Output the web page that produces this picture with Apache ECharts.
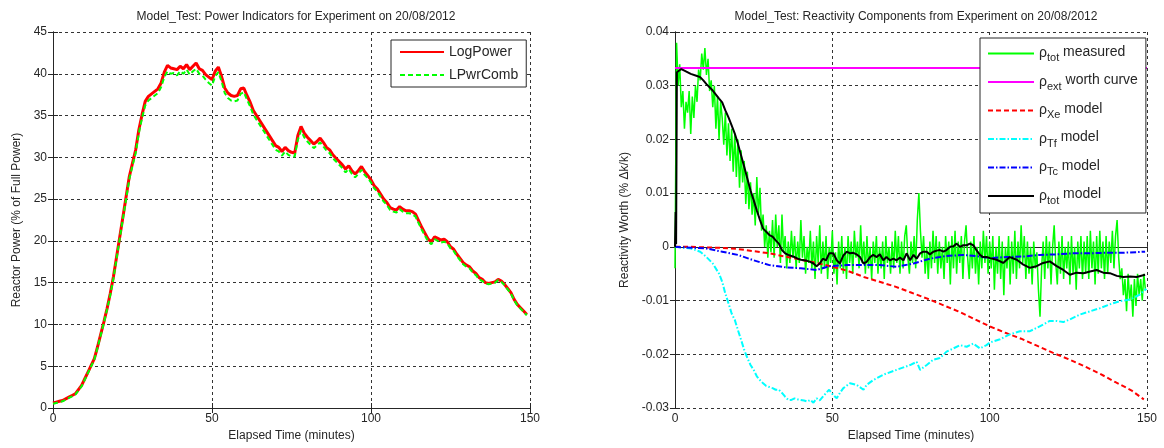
<!DOCTYPE html>
<html>
<head>
<meta charset="utf-8">
<script src="https://cdn.jsdelivr.net/npm/echarts@6/dist/echarts.min.js"></script>
<style>
    html, body { margin: 0; padding: 0; background: #fff; }
    #main { width: 1164px; height: 448px; }
</style>
</head>
<body>
<div id="main"></div>
<script>
// ---- left panel: power (% of full power), one sample per minute ----
var logPower = [0.6, 0.7, 0.8, 0.9, 1.1, 1.3, 1.5, 1.7, 2.2, 2.7, 3.5, 4.3, 5.1, 5.9, 7.3, 8.8, 10.3, 11.9, 13.7, 15.7,
    18.1, 20.5, 22.9, 25.3, 27.7, 29.3, 30.9, 33.3, 35.1, 36.7, 37.3, 37.6, 37.9, 38.2, 38.9, 40.2, 41.0, 40.7, 40.6, 40.5,
    40.9, 40.6, 41.1, 40.5, 40.9, 41.3, 40.6, 40.4, 39.9, 39.6, 39.3, 40.3, 40.8, 39.7, 38.3, 37.7, 37.4, 37.3, 37.4, 38.2,
    38.3, 37.4, 36.6, 35.6, 35.0, 34.4, 33.8, 33.2, 32.6, 32.0, 31.4, 31.2, 30.7, 31.2, 30.8, 30.6, 30.5, 32.6, 33.7, 32.9,
    32.4, 32.0, 31.6, 31.9, 32.3, 31.8, 31.2, 30.9, 30.3, 29.9, 29.5, 29.1, 28.6, 29.0, 28.4, 28.0, 28.4, 28.9, 28.3, 27.8,
    27.3, 26.6, 26.2, 25.6, 25.0, 24.6, 24.0, 23.8, 23.7, 24.1, 23.8, 23.6, 23.6, 23.5, 23.2, 22.4, 21.6, 20.9, 20.2, 19.9,
    20.5, 20.3, 20.1, 20.2, 19.9, 19.3, 19.0, 18.4, 17.9, 17.4, 17.1, 16.9, 16.4, 16.1, 15.6, 15.4, 15.0, 14.9, 15.0, 15.1,
    15.4, 15.2, 14.8, 14.3, 13.8, 13.0, 12.4, 12.0, 11.6, 11.2];
var lpwrComb = [0.5, 0.6, 0.7, 0.8, 1.0, 1.2, 1.4, 1.6, 2.1, 2.6, 3.4, 4.2, 5.0, 5.8, 7.2, 8.7, 10.2, 11.8, 13.5, 15.5,
    17.9, 20.3, 22.7, 25.0, 27.4, 29.0, 30.5, 32.9, 34.7, 36.2, 36.8, 37.1, 37.4, 37.7, 38.4, 39.6, 40.3, 40.0, 40.1, 39.8,
    40.3, 40.0, 40.5, 39.9, 40.3, 40.6, 40.0, 39.8, 39.3, 38.9, 38.6, 39.7, 40.2, 39.1, 37.7, 37.1, 36.8, 36.7, 36.8, 37.6,
    37.8, 36.9, 36.1, 35.1, 34.5, 33.9, 33.3, 32.7, 32.1, 31.5, 30.9, 30.7, 30.2, 30.7, 30.3, 30.1, 30.1, 32.1, 33.2, 32.4,
    31.9, 31.5, 31.1, 31.4, 31.8, 31.3, 30.8, 30.5, 29.9, 29.5, 29.1, 28.7, 28.2, 28.6, 28.0, 27.6, 28.0, 28.5, 27.9, 27.5,
    27.0, 26.3, 25.9, 25.3, 24.7, 24.3, 23.7, 23.5, 23.4, 23.8, 23.5, 23.3, 23.3, 23.2, 22.9, 22.1, 21.3, 20.6, 19.9, 19.6,
    20.2, 20.0, 19.8, 19.9, 19.7, 19.1, 18.8, 18.2, 17.7, 17.2, 16.9, 16.7, 16.2, 15.9, 15.4, 15.2, 14.9, 14.8, 14.9, 15.0,
    15.3, 15.1, 14.7, 14.2, 13.7, 12.9, 12.3, 11.9, 11.5, 11.1];

// ---- right panel: reactivity (% dk/k) ----
// measured total, one sample every half minute
var measuredStep = 0.5;
var rhoMeasured = [-0.004, 0.038, 0.030, 0.034, 0.026, 0.029, 0.022, 0.027, 0.025, 0.029,
    0.021, 0.028, 0.024, 0.030, 0.027, 0.033, 0.031, 0.036, 0.033, 0.037,
    0.032, 0.035, 0.029, 0.031, 0.026, 0.030, 0.022, 0.028, 0.020, 0.027,
    0.024, 0.019, 0.025, 0.017, 0.023, 0.016, 0.022, 0.014, 0.021, 0.013,
    0.020, 0.011, 0.018, 0.012, 0.016, 0.008, 0.014, 0.007, 0.012, 0.006,
    0.010, 0.004, 0.013, 0.006, 0.011, 0.003, 0.006, 0.000, 0.004, -0.002,
    0.003, -0.001, 0.005, -0.002, 0.006, 0.000, 0.004, -0.003, 0.006, -0.001,
    0.002, -0.004, 0.001, -0.003, 0.003, -0.002, 0.002, -0.004, 0.001, -0.003,
    0.005, -0.002, 0.002, -0.005, 0.000, -0.003, 0.003, -0.004, 0.001, -0.006,
    0.002, -0.003, 0.004, -0.005, 0.001, -0.004, 0.002, -0.006, 0.000, -0.003,
    0.003, -0.005, -0.001, -0.007, 0.001, -0.004, 0.002, -0.005, 0.000, -0.006,
    0.002, -0.003, 0.001, -0.005, 0.003, -0.002, 0.001, -0.004, 0.004, -0.003,
    0.001, -0.005, 0.002, -0.004, 0.000, -0.006, 0.001, -0.003, 0.002, -0.005,
    0.000, -0.004, 0.001, -0.006, 0.002, -0.003, 0.000, -0.005, 0.001, -0.004,
    0.003, -0.003, 0.002, -0.005, 0.001, -0.004, 0.002, 0.004, -0.002, -0.005,
    0.001, -0.003, 0.002, -0.004, 0.005, 0.010, 0.003, -0.002, 0.002, -0.005,
    0.000, -0.006, 0.001, -0.004, 0.003, -0.003, 0.002, -0.005, 0.001, -0.004,
    0.000, -0.006, 0.002, -0.003, 0.001, -0.007, 0.002, -0.004, 0.003, -0.005,
    0.001, -0.003, 0.002, -0.006, 0.001, 0.004, -0.002, -0.006, 0.001, -0.004,
    0.002, -0.005, 0.000, -0.007, 0.001, -0.004, 0.003, -0.003, 0.002, -0.005,
    0.001, -0.004, 0.002, -0.008, 0.000, -0.005, 0.002, -0.006, 0.001, -0.009,
    0.000, -0.004, 0.002, -0.007, 0.001, -0.005, 0.003, -0.006, 0.001, -0.004,
    0.004, -0.003, 0.002, -0.006, 0.001, -0.005, 0.000, -0.007, 0.001, -0.004,
    -0.001, -0.008, -0.013, -0.004, 0.001, -0.006, 0.002, -0.004, 0.001, -0.007,
    0.000, 0.004, -0.003, -0.007, 0.001, -0.005, 0.002, -0.006, 0.000, -0.004,
    0.001, -0.007, 0.002, -0.005, 0.000, -0.008, 0.001, -0.004, 0.002, -0.006,
    0.001, -0.005, 0.002, -0.006, 0.003, -0.004, 0.001, -0.007, 0.002, -0.005,
    0.003, -0.004, 0.001, -0.006, 0.002, -0.005, 0.001, -0.003, 0.003, -0.004,
    0.002, 0.005, -0.002, -0.006, -0.004, -0.009, -0.006, -0.012, -0.005, -0.010,
    -0.007, -0.013, -0.006, -0.011, -0.005, -0.009, -0.006, -0.010, -0.005, -0.008];

var extTime = [0, 150];
var rhoExt = [0.0333, 0.0333];

var xeTime = [0, 5, 10, 15, 20, 25, 30, 35, 40, 45, 50, 55, 60, 65, 70, 75, 80, 85, 90, 95, 100,
    105, 110, 115, 120, 125, 130, 135, 140, 145, 149];
var rhoXe = [0, 0, -0.0001, -0.0002, -0.0004, -0.0008, -0.0012, -0.0018, -0.0024, -0.0030, -0.0037,
    -0.0045, -0.0056, -0.0065, -0.0074, -0.0085, -0.0096, -0.0108, -0.0120, -0.0134, -0.0148,
    -0.0160, -0.0171, -0.0184, -0.0197, -0.0209, -0.0222, -0.0236, -0.0252, -0.0267, -0.0284];

var tfTime = [0, 5, 8, 10, 12, 14, 15, 16, 17, 18, 19, 20, 21, 22, 23, 24, 25, 26, 27, 28, 29, 30,
    31, 32, 33, 34, 35, 36, 37, 38, 39, 40, 41, 42, 43, 44, 45, 46, 47, 48, 49, 50.3, 51.4, 52.4,
    53.5, 55.6, 57.7, 59.9, 60.9, 63, 66.2, 70.4, 74.7, 76.8, 77.9, 80, 82.1, 84.2, 86.3, 88.5,
    90.6, 92.7, 94.8, 96.9, 99, 100.1, 103.3, 106.4, 109.6, 112.8, 115.9, 119.1, 121.3, 123.4,
    125.5, 128.7, 131.9, 135.1, 138.2, 141.4, 144.6, 147.7, 149.8];
var rhoTf = [0, -0.0003, -0.0009, -0.0019, -0.0031, -0.0050, -0.0065, -0.0087, -0.0105, -0.0124,
    -0.0136, -0.0155, -0.0173, -0.0192, -0.0207, -0.0220, -0.0229, -0.0241, -0.0248, -0.0254,
    -0.0259, -0.0261, -0.0263, -0.0266, -0.0266, -0.0272, -0.0279, -0.0285, -0.0285, -0.0282,
    -0.0284, -0.0285, -0.0286, -0.0288, -0.0285, -0.0290, -0.0282, -0.0286, -0.0279, -0.0272,
    -0.0266, -0.0276, -0.0282, -0.0272, -0.0263, -0.0254, -0.0257, -0.0266, -0.0257, -0.0248,
    -0.0238, -0.0229, -0.0220, -0.0214, -0.0229, -0.0220, -0.0210, -0.0207, -0.0195, -0.0189,
    -0.0183, -0.0186, -0.0180, -0.0189, -0.0183, -0.0178, -0.0172, -0.0163, -0.0157, -0.0157,
    -0.0148, -0.0138, -0.0138, -0.0140, -0.0135, -0.0126, -0.0120, -0.0114, -0.0107, -0.0101,
    -0.0098, -0.0089, -0.0078];

var tcTime = [0, 10, 15, 20, 25, 30, 35, 40, 45, 49, 54.6, 59.9, 65.1, 70.4, 75.8, 81, 86.3, 91.6,
    96.9, 100, 105.4, 110.7, 115.9, 121.3, 126.6, 131.9, 137.2, 142.5, 149.4];
var rhoTc = [0, -0.0003, -0.0009, -0.0015, -0.0025, -0.0034, -0.0038, -0.0040, -0.0043, -0.0036,
    -0.0034, -0.0034, -0.0034, -0.0037, -0.0031, -0.0022, -0.0017, -0.0015, -0.0018, -0.0021,
    -0.0019, -0.0018, -0.0015, -0.0014, -0.0012, -0.0012, -0.0011, -0.0011, -0.0009];

var totTime = [0, 0.2, 0.35, 0.6, 1, 2, 3, 5, 7, 8, 9, 10, 12, 14, 15, 16, 17, 18, 19, 20, 21, 22,
    23, 24, 25, 26, 27, 28, 29, 30, 31, 32, 33, 34, 35, 36, 37, 38, 39, 40, 41, 42, 43, 44, 45, 46,
    47, 48, 49, 50.3, 51.4, 52.4, 53.5, 54.6, 55.6, 56.7, 57.7, 58.8, 59.9, 60.9, 62, 63, 64.1,
    65.1, 66.2, 67.2, 68.3, 69.4, 70.4, 71.5, 72.6, 73.6, 74.7, 75.8, 76.8, 77.9, 78.9, 80, 81,
    82.1, 83.2, 84.2, 85.3, 86.3, 87.4, 88.5, 89.5, 90.6, 91.6, 92.7, 93.7, 94.8, 95.8, 96.9,
    97.9, 99, 100.1, 102.2, 104.3, 106.4, 108.6, 110.7, 112.8, 114.9, 117, 119.1, 121.3, 123.4,
    125.5, 127.6, 129.8, 131.9, 134, 136.1, 138.2, 140.4, 142.5, 144.6, 146.7, 149.4];
var rhoTotModel = [0, 0.0065, 0.0005, 0.0325, 0.0328, 0.0331, 0.0328, 0.0322, 0.0318, 0.0316,
    0.0310, 0.0303, 0.0291, 0.0276, 0.0269, 0.0254, 0.0241, 0.0226, 0.0211, 0.0192, 0.0170,
    0.0149, 0.0127, 0.0105, 0.0087, 0.0068, 0.0050, 0.0034, 0.0028, 0.0022, 0.0019, 0.0012,
    0.0006, -0.0006, -0.0012, -0.0015, -0.0017, -0.0019, -0.0022, -0.0024, -0.0025, -0.0026,
    -0.0028, -0.0031, -0.0036, -0.0031, -0.0022, -0.0025, -0.0012, -0.0012, -0.0025, -0.0031,
    -0.0016, -0.0009, -0.0012, -0.0011, -0.0014, -0.0019, -0.0031, -0.0028, -0.0019, -0.0015,
    -0.0019, -0.0014, -0.0025, -0.0019, -0.0025, -0.0022, -0.0025, -0.0020, -0.0025, -0.0012,
    -0.0025, -0.0015, -0.0022, -0.0012, -0.0009, -0.0009, -0.0014, -0.0009, -0.0007, -0.0006,
    -0.0009, -0.0006, 0.0000, 0.0001, 0.0006, 0.0000, 0.0003, 0.0003, 0.0006, 0.0003, -0.0006,
    -0.0015, -0.0019, -0.0019, -0.0021, -0.0024, -0.0030, -0.0019, -0.0024, -0.0033, -0.0039,
    -0.0036, -0.0030, -0.0027, -0.0036, -0.0043, -0.0052, -0.0048, -0.0049, -0.0046, -0.0043,
    -0.0048, -0.0049, -0.0054, -0.0056, -0.0055, -0.0056, -0.0052];

// legend labels: rho + subscript + tail
var rhoNames = ['ρtot measured', 'ρext worth curve', 'ρXe model', 'ρTf model', 'ρTc model', 'ρtot model'];
var rhoSubs = ['tot', 'ext', 'Xe', 'Tf', 'Tc', 'tot'];
var rhoTails = [' measured', ' worth curve', ' model', ' model', ' model', ' model'];

var FONT = '"Liberation Sans", Arial, Helvetica, sans-serif';
var INK = '#262626';

function pairs(xs, ys) {
    var out = [];
    for (var k = 0; k < ys.length; k++) {
        out.push([xs[k], ys[k]]);
    }
    return out;
}
function stepPairs(step, ys) {
    var out = [];
    for (var k = 0; k < ys.length; k++) {
        out.push([k * step, ys[k]]);
    }
    return out;
}

// main x/y axes (bottom/left) and the mirror ones (top/right) that close the box
function mainX(grid, name) {
    return {
        type: 'value', gridIndex: grid, min: 0, max: 150, interval: 50,
        name: name, nameLocation: 'middle', nameGap: 22,
        nameTextStyle: { color: INK, fontSize: 12, fontFamily: FONT },
        axisLine: { show: true, lineStyle: { color: INK, width: 1 } },
        axisTick: { show: true, inside: true, length: 5, lineStyle: { color: INK } },
        axisLabel: { color: INK, fontSize: 12, fontFamily: FONT, margin: 5 },
        splitLine: { show: true, lineStyle: { color: '#333', type: [3, 3], width: 1 } }
    };
}
function mirrorX(grid) {
    return {
        type: 'value', gridIndex: grid, position: 'top', min: 0, max: 150, interval: 50,
        axisLine: { show: true, lineStyle: { color: INK, width: 1 } },
        axisTick: { show: true, inside: true, length: 5, lineStyle: { color: INK } },
        axisLabel: { show: false },
        splitLine: { show: false }
    };
}
function mainY(grid, min, max, step, name, gap) {
    return {
        type: 'value', gridIndex: grid, min: min, max: max, interval: step,
        name: name, nameLocation: 'middle', nameGap: gap,
        nameTextStyle: { color: INK, fontSize: 12, fontFamily: FONT },
        axisLine: { show: true, lineStyle: { color: INK, width: 1 } },
        axisTick: { show: true, inside: true, length: 5, lineStyle: { color: INK } },
        axisLabel: { color: INK, fontSize: 12, fontFamily: FONT, margin: 6 },
        splitLine: { show: true, lineStyle: { color: '#333', type: [3, 3], width: 1 } }
    };
}
function mirrorY(grid, min, max, step) {
    return {
        type: 'value', gridIndex: grid, position: 'right', min: min, max: max, interval: step,
        axisLine: { show: true, lineStyle: { color: INK, width: 1 } },
        axisTick: { show: true, inside: true, length: 5, lineStyle: { color: INK } },
        axisLabel: { show: false },
        splitLine: { show: false }
    };
}

function lineSeries(name, xi, yi, data, color, width, dash, z) {
    return {
        name: name, type: 'line', xAxisIndex: xi, yAxisIndex: yi,
        data: data, symbol: 'none', animation: false, z: z,
        lineStyle: { color: color, width: width, type: dash },
        itemStyle: { color: color }
    };
}

var chart = echarts.init(document.getElementById('main'), null, { renderer: 'canvas' });

chart.setOption({
    backgroundColor: '#fff',
    animation: false,
    title: [
        {
            text: 'Model_Test: Power Indicators for Experiment on 20/08/2012',
            left: 291, top: 6, textAlign: 'center',
            textStyle: { color: INK, fontSize: 12, fontWeight: 'normal', fontFamily: FONT }
        },
        {
            text: 'Model_Test: Reactivity Components from Experiment on 20/08/2012',
            left: 911, top: 6, textAlign: 'center',
            textStyle: { color: INK, fontSize: 12, fontWeight: 'normal', fontFamily: FONT }
        }
    ],
    grid: [
        { left: 53, top: 32, width: 477, height: 376, show: false },
        { left: 675, top: 32, width: 472, height: 376, show: false }
    ],
    xAxis: [
        mainX(0, 'Elapsed Time (minutes)'), mirrorX(0),
        mainX(1, 'Elapsed Time (minutes)'), mirrorX(1)
    ],
    yAxis: [
        mainY(0, 0, 45, 5, 'Reactor Power (% of Full Power)', 30), mirrorY(0, 0, 45, 5),
        mainY(1, -0.03, 0.04, 0.01, 'Reactivity Worth (% \u0394k/k)', 44), mirrorY(1, -0.03, 0.04, 0.01)
    ],
    legend: [
        {
            data: ['LogPower', 'LPwrComb'],
            orient: 'vertical', left: 391, top: 40,
            itemWidth: 44, itemHeight: 12, itemGap: 9,
            padding: [5, 8, 5, 8],
            itemStyle: { opacity: 0 },
            backgroundColor: '#fff', borderColor: INK, borderWidth: 1, borderRadius: 0,
            textStyle: { color: INK, fontSize: 14, fontFamily: FONT },
            selectedMode: false
        },
        {
            data: rhoNames,
            orient: 'vertical', left: 980, top: 38,
            itemWidth: 46, itemHeight: 14, itemGap: 10,
            padding: [7, 8, 7, 7],
            itemStyle: { opacity: 0 },
            backgroundColor: '#fff', borderColor: INK, borderWidth: 1, borderRadius: 0,
            selectedMode: false,
            formatter: function (name) {
                var k = rhoNames.indexOf(name);
                return '{r|ρ}{s|' + rhoSubs[k] + '}{t|' + rhoTails[k] + '}';
            },
            textStyle: {
                color: INK, fontFamily: FONT,
                rich: {
                    r: { fontSize: 14, fontFamily: FONT, color: INK },
                    s: { fontSize: 11, fontFamily: FONT, color: INK, padding: [9, 0, 0, 0] },
                    t: { fontSize: 14, fontFamily: FONT, color: INK, padding: [0, 0, 3, 0] }
                }
            }
        }
    ],
    series: [
        lineSeries('LogPower', 0, 0, stepPairs(1, logPower), '#ff0000', 3, 'solid', 2),
        lineSeries('LPwrComb', 0, 0, stepPairs(1, lpwrComb), '#00ff00', 2, [5, 3], 3),

        lineSeries(rhoNames[0], 2, 2, stepPairs(measuredStep, rhoMeasured), '#00ff00', 1.5, 'solid', 2),
        lineSeries(rhoNames[1], 2, 2, pairs(extTime, rhoExt), '#ff00ff', 2, 'solid', 3),
        lineSeries(rhoNames[2], 2, 2, pairs(xeTime, rhoXe), '#ff0000', 2, [5, 3], 3),
        lineSeries(rhoNames[3], 2, 2, pairs(tfTime, rhoTf), '#00ffff', 2, [6, 2, 1.5, 2], 3),
        lineSeries(rhoNames[4], 2, 2, pairs(tcTime, rhoTc), '#0000ff', 2, [6, 2, 1.5, 2], 4),
        lineSeries(rhoNames[5], 2, 2, pairs(totTime, rhoTotModel), '#000000', 2, 'solid', 5)
    ]
});
</script>
</body>
</html>
